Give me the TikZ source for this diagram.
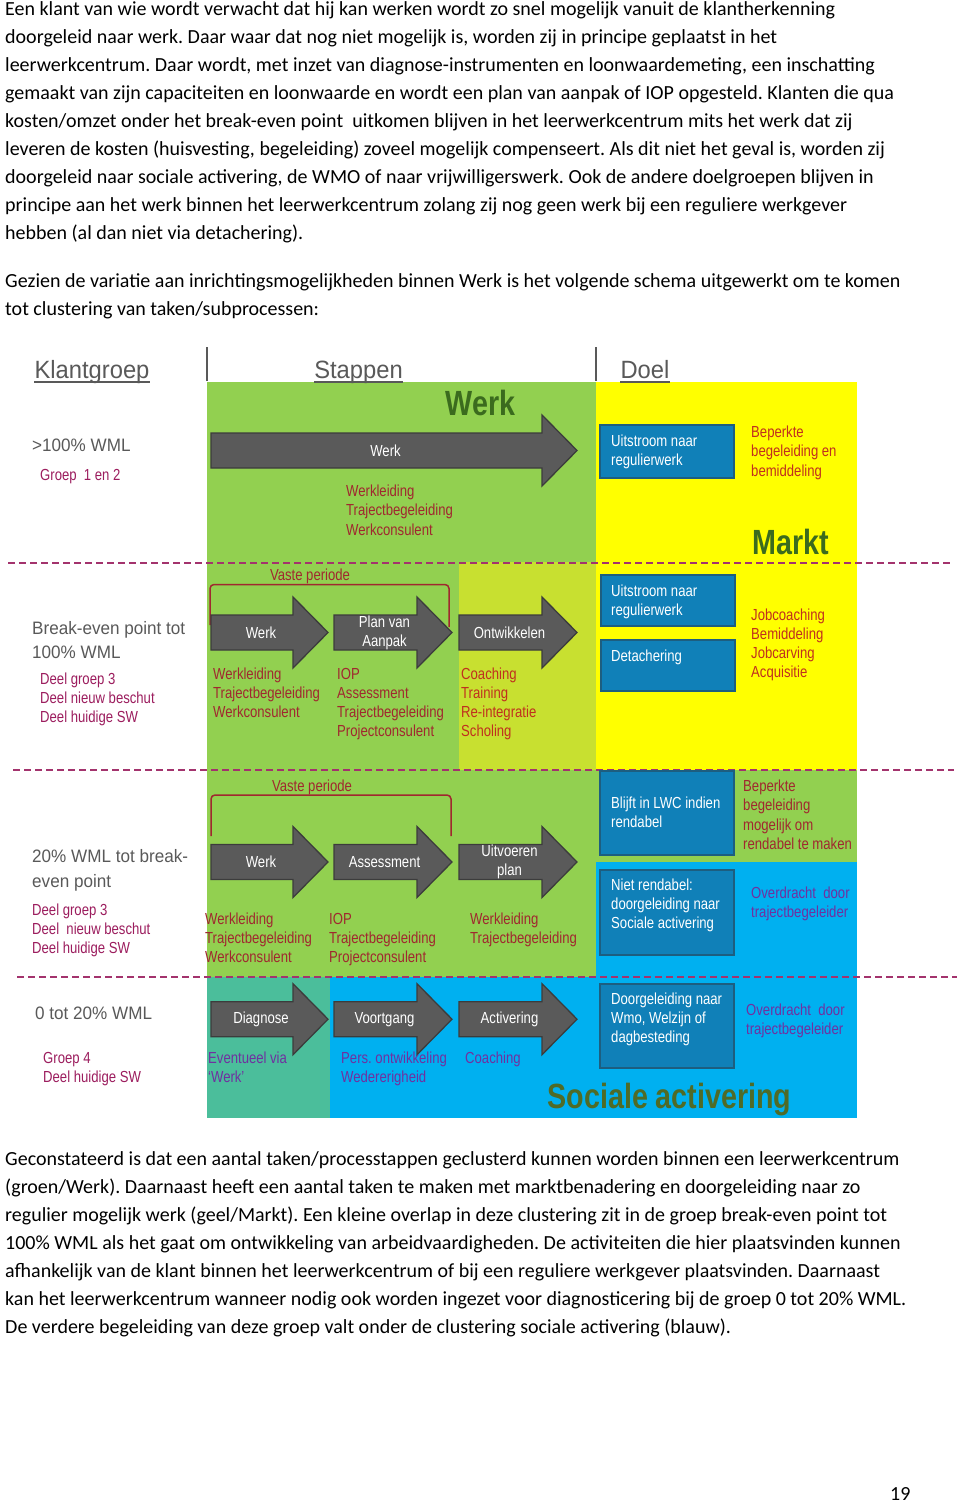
\documentclass[tikz,border=0pt]{standalone}
\usepackage{fontspec}
\setmainfont{Carlito}
\newfontfamily\kopfont[FakeStretch=0.95]{Liberation Sans}
\newfontfamily\diafont[FakeStretch=0.82]{Liberation Sans}
\frenchspacing

\definecolor{werkgroen}{HTML}{92D050}
\definecolor{ontwgroen}{HTML}{C8E030}
\definecolor{marktgeel}{HTML}{FFFF00}
\definecolor{sociaalblauw}{HTML}{00B0F0}
\definecolor{diagnoseteal}{HTML}{4BBE9B}
\definecolor{pijlgrijs}{HTML}{5A5A5A}
\definecolor{pijlrand}{HTML}{3C3C3C}
\definecolor{doelblauw}{HTML}{1080B8}
\definecolor{doelrand}{HTML}{1D5E80}
\definecolor{kopgrijs}{HTML}{595959}
\definecolor{roze}{HTML}{9C1D5E}
\definecolor{donkerrood}{HTML}{A0282F}
\definecolor{oranjerood}{HTML}{C0301E}
\definecolor{paars}{HTML}{7030A0}
\definecolor{titelgroen}{HTML}{3B6B1E}
\definecolor{olijf}{HTML}{4F6B27}
\definecolor{streepkleur}{HTML}{A3336D}

% grijze stap-pijl: naam, x begin, x punt, y midden, tekst
\newcommand{\stap}[5]{%
  \path[pijl] (#2,#4-17.5) -- (#3-35,#4-17.5) -- (#3-35,#4-35.5) -- (#3,#4)
    -- (#3-35,#4+35.5) -- (#3-35,#4+17.5) -- (#2,#4+17.5) -- cycle;
  \node[pijltekst] (#1) at ({(#2+#3-17)/2},#4) {#5};}

\begin{document}
\begin{tikzpicture}
  [
   x=1pt, y=-1pt,
   tekst/.style={font=\fontsize{20}{28}\selectfont,inner sep=0pt,anchor=base west,align=left},
   kop/.style={font=\kopfont\fontsize{25}{30}\selectfont,text=kopgrijs,inner sep=0pt,anchor=base},
   groep/.style={font=\kopfont\fontsize{18}{24.3}\selectfont,text=kopgrijs,inner sep=0pt,anchor=base west,align=left},
   lijst/.style={font=\diafont\fontsize{16}{19.2}\selectfont,inner sep=0pt,anchor=base west,align=left},
   titel/.style={font=\diafont\bfseries\fontsize{35}{40}\selectfont,inner sep=0pt,anchor=base},
   pijl/.style={fill=pijlgrijs,draw=pijlrand,line width=1.3pt},
   pijltekst/.style={font=\diafont\fontsize{16}{19.2}\selectfont,text=white,align=center,inner sep=0pt},
   doel/.style={rectangle,fill=doelblauw,draw=doelrand,line width=1.5pt,minimum width=134pt,inner sep=0pt,anchor=north west},
   doeltekst/.style={font=\diafont\fontsize{16}{19.2}\selectfont,text=white,inner sep=0pt,anchor=base west,align=left},
   streep/.style={draw=streepkleur,dash pattern=on 7pt off 4pt,line width=1.3pt}
  ]
  \useasboundingbox (0,0) rectangle (960,1504);
  \fill[white] (0,0) rectangle (960,1504);

  % lopende tekst (base = laatste regel)
  \node[tekst] (alinea1) at (5,15+8*28) {Een klant van wie wordt verwacht dat hij kan werken wordt zo snel mogelijk vanuit de klantherkenning\\
doorgeleid naar werk. Daar waar dat nog niet mogelijk is, worden zij in principe geplaatst in het\\
leerwerkcentrum. Daar wordt, met inzet van diagnose-instrumenten en loonwaardemeting, een inschatting\\
gemaakt van zijn capaciteiten en loonwaarde en wordt een plan van aanpak of IOP opgesteld. Klanten die qua\\
kosten/omzet onder het break-even point\ \ uitkomen blijven in het leerwerkcentrum mits het werk dat zij\\
leveren de kosten (huisvesting, begeleiding) zoveel mogelijk compenseert. Als dit niet het geval is, worden zij\\
doorgeleid naar sociale activering, de WMO of naar vrijwilligerswerk. Ook de andere doelgroepen blijven in\\
principe aan het werk binnen het leerwerkcentrum zolang zij nog geen werk bij een reguliere werkgever\\
hebben (al dan niet via detachering).};
  \node[tekst] (alinea2) at (5,287+28) {Gezien de variatie aan inrichtingsmogelijkheden binnen Werk is het volgende schema uitgewerkt om te komen\\
tot clustering van taken/subprocessen:};
  \node[tekst] (alinea3) at (5,1165+6*28) {Geconstateerd is dat een aantal taken/processtappen geclusterd kunnen worden binnen een leerwerkcentrum\\
(groen/Werk). Daarnaast heeft een aantal taken te maken met marktbenadering en doorgeleiding naar zo\\
regulier mogelijk werk (geel/Markt). Een kleine overlap in deze clustering zit in de groep break-even point tot\\
100\% WML als het gaat om ontwikkeling van arbeidvaardigheden. De activiteiten die hier plaatsvinden kunnen\\
afhankelijk van de klant binnen het leerwerkcentrum of bij een reguliere werkgever plaatsvinden. Daarnaast\\
kan het leerwerkcentrum wanneer nodig ook worden ingezet voor diagnosticering bij de groep 0 tot 20\% WML.\\
De verdere begeleiding van deze groep valt onder de clustering sociale activering (blauw).};
  \node[tekst] (paginanr) at (890,1500) {19};

  % vlakken
  \fill[werkgroen] (207,382) rectangle (596,562);
  \fill[marktgeel] (596,382) rectangle (857,770);
  \fill[werkgroen] (207,562) rectangle (459,770);
  \fill[ontwgroen] (459,562) rectangle (596,770);
  \fill[werkgroen] (207,770) rectangle (857,862);
  \fill[werkgroen] (207,862) rectangle (596,977);
  \fill[sociaalblauw] (596,862) rectangle (857,977);
  \fill[diagnoseteal] (207,977) rectangle (330,1118);
  \fill[sociaalblauw] (330,977) rectangle (857,1118);

  \draw[streep] (8,563) -- (950,563);
  \draw[streep] (13,770) -- (954,770);
  \draw[streep] (17,977) -- (957,977);

  % koppen
  \node[kop] (klantgroep) at (92,378) {Klantgroep};
  \node[kop] (stappen) at (358.5,378) {Stappen};
  \node[kop] (doel) at (645,378) {Doel};
  \foreach \k in {klantgroep,stappen,doel}
    \draw[kopgrijs,line width=1.3pt] ([yshift=-4pt]\k.base west) -- ([yshift=-4pt]\k.base east);
  \draw[kopgrijs,line width=2pt] (207,347) -- (207,381);
  \draw[kopgrijs,line width=2pt] (596,347) -- (596,381);

  \node[titel,text=titelgroen] (werktitel) at (480.5,415) {Werk};
  \node[titel,text=titelgroen] (markttitel) at (790.5,554) {Markt};
  \node[titel,text=olijf] (sociaaltitel) at (669.5,1108) {Sociale activering};

  % >100% WML
  \node[groep] (g1) at (32,451.5) {>100\% WML};
  \node[lijst,text=roze] (g1sub) at (40,480) {Groep\ \ 1 en 2};
  \stap{s1}{211}{577}{450.5}{Werk}
  \node[lijst,text=donkerrood] (s1taak) at (346,535.1) {Werkleiding\\Trajectbegeleiding\\Werkconsulent};
  \node[doel,minimum height=53pt] (d1) at (599,424) {};
  \node[doeltekst] (d1t) at (611,465.2) {Uitstroom naar\\regulierwerk};
  \node[lijst,text=oranjerood] (d1taak) at (751,476) {Beperkte\\begeleiding en\\bemiddeling};

  % break-even point tot 100% WML
  \node[groep] (g2) at (32,658.3) {Break-even point tot\\100\% WML};
  \node[lijst,text=roze] (g2sub) at (40,722.4) {Deel groep 3\\Deel nieuw beschut\\Deel huidige SW};
  \node[lijst,text=donkerrood,anchor=base] (vp2) at (310,580.7) {Vaste periode};
  \draw[donkerrood,line width=1.5pt,rounded corners=4pt] (210,625) |- (449,584.5) -- (449,627);
  \stap{s2a}{211}{328}{632.5}{Werk}
  \stap{s2b}{334}{452}{632.5}{Plan van\\Aanpak}
  \stap{s2c}{459}{577}{632.5}{Ontwikkelen}
  \node[lijst,text=donkerrood] (s2at) at (213,717.7) {Werkleiding\\Trajectbegeleiding\\Werkconsulent};
  \node[lijst,text=donkerrood] (s2bt) at (337,736.9) {IOP\\Assessment\\Trajectbegeleiding\\Projectconsulent};
  \node[lijst,text=oranjerood] (s2ct) at (461,736.9) {Coaching\\Training\\Re-integratie\\Scholing};
  \node[doel,minimum height=51pt] (d2a) at (600,574) {};
  \node[doeltekst] (d2at) at (611,615.2) {Uitstroom naar\\regulierwerk};
  \node[doel,minimum height=51pt] (d2b) at (600,639) {};
  \node[doeltekst] (d2bt) at (611,661.7) {Detachering};
  \node[lijst,text=oranjerood] (d2taak) at (751,677.6) {Jobcoaching\\Bemiddeling\\Jobcarving\\Acquisitie};

  % 20% WML tot break-even point
  \node[groep] (g3) at (32,887) {20\% WML tot break-\\even point};
  \node[lijst,text=roze] (g3sub) at (32,953.4) {Deel groep 3\\Deel\ \ nieuw beschut\\Deel huidige SW};
  \node[lijst,text=donkerrood,anchor=base] (vp3) at (312,791.7) {Vaste periode};
  \draw[donkerrood,line width=1.5pt,rounded corners=4pt] (211,836) |- (451,795) -- (451,836);
  \stap{s3a}{211}{328}{862}{Werk}
  \stap{s3b}{334}{452}{862}{Assessment}
  \stap{s3c}{459}{577}{862}{Uitvoeren\\plan}
  \node[lijst,text=donkerrood] (s3at) at (205,962.7) {Werkleiding\\Trajectbegeleiding\\Werkconsulent};
  \node[lijst,text=donkerrood] (s3bt) at (329,962.7) {IOP\\Trajectbegeleiding\\Projectconsulent};
  \node[lijst,text=donkerrood] (s3ct) at (470,943.5) {Werkleiding\\Trajectbegeleiding};
  \node[doel,minimum height=84pt] (d3a) at (599,770) {};
  \node[doeltekst] (d3at) at (611,827.5) {Blijft in LWC indien\\rendabel};
  \node[doel,minimum height=85pt] (d3b) at (599,869) {};
  \node[doeltekst] (d3bt) at (611,928.4) {Niet rendabel:\\doorgeleiding naar\\Sociale activering};
  \node[lijst,text=donkerrood] (d3taak) at (743,849.3) {Beperkte\\begeleiding\\mogelijk om\\rendabel te maken};
  \node[lijst,text=paars] (d3over) at (751,917.5) {Overdracht\ \ door\\trajectbegeleider};

  % 0 tot 20% WML
  \node[groep] (g4) at (35,1019.3) {0 tot 20\% WML};
  \node[lijst,text=roze] (g4sub) at (43,1082.5) {Groep 4\\Deel huidige SW};
  \stap{s4a}{211}{328}{1019.2}{Diagnose}
  \stap{s4b}{334}{452}{1019.2}{Voortgang}
  \stap{s4c}{459}{577}{1019.2}{Activering}
  \node[lijst,text=paars] (s4at) at (208,1082.5) {Eventueel via\\‘Werk’};
  \node[lijst,text=paars] (s4bt) at (341,1082.5) {Pers. ontwikkeling\\Wedererigheid};
  \node[lijst,text=paars] (s4ct) at (465,1063.3) {Coaching};
  \node[doel,minimum height=84pt] (d4) at (599,983) {};
  \node[doeltekst] (d4t) at (611,1042.7) {Doorgeleiding naar\\Wmo, Welzijn of\\dagbesteding};
  \node[lijst,text=paars] (d4over) at (746,1034.2) {Overdracht\ \ door\\trajectbegeleider};

\end{tikzpicture}
\end{document}
